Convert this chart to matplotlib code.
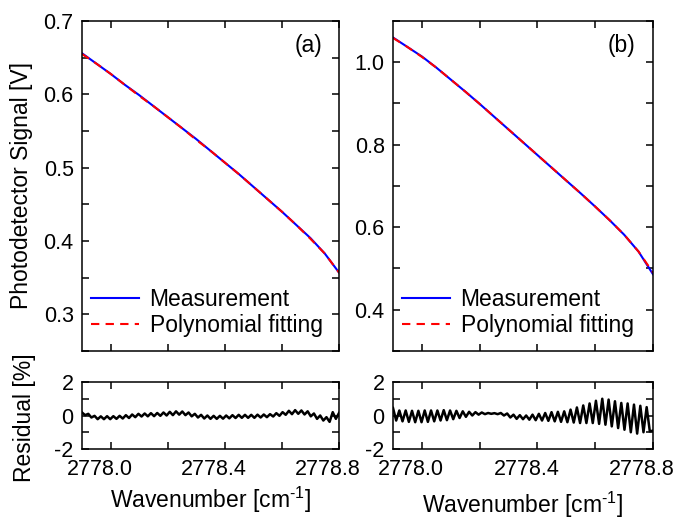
"""Photodetector signal with polynomial fit and residual, two cases (a) and (b).
"""
import numpy as np
import matplotlib.pyplot as plt
import matplotlib.transforms as mtrans
from matplotlib.ticker import MultipleLocator, FormatStrFormatter

plt.rcParams['font.family'] = ['Liberation Sans', 'DejaVu Sans']
plt.rcParams['font.size'] = 16.5
plt.rcParams['xtick.labelsize'] = 15.5
plt.rcParams['ytick.labelsize'] = 15.5
plt.rcParams['axes.unicode_minus'] = False
plt.rcParams['mathtext.fontset'] = 'custom'
plt.rcParams['mathtext.rm'] = 'Liberation Sans'
plt.rcParams['mathtext.it'] = 'Liberation Sans:italic'

# signal curves, sampled every 0.05 cm^-1
wn_sig = np.linspace(2777.90, 2778.80, 19)
meas_a = [0.656, 0.642, 0.628, 0.613, 0.599, 0.584, 0.569, 0.554, 0.539, 0.523,
          0.507, 0.491, 0.474, 0.457, 0.440, 0.422, 0.404, 0.383, 0.357]
fit_a = [0.655, 0.642, 0.628, 0.613, 0.598, 0.584, 0.569, 0.554, 0.538, 0.523,
         0.507, 0.491, 0.474, 0.457, 0.440, 0.422, 0.403, 0.383, 0.357]
meas_b = [1.060, 1.037, 1.014, 0.987, 0.958, 0.929, 0.899, 0.868, 0.837, 0.806,
          0.775, 0.744, 0.713, 0.682, 0.650, 0.617, 0.582, 0.541, 0.486]
fit_b = [1.059, 1.037, 1.013, 0.987, 0.958, 0.929, 0.899, 0.868, 0.837, 0.806,
         0.775, 0.744, 0.713, 0.682, 0.650, 0.617, 0.582, 0.541, 0.490]

# residuals [%], read at the peaks / troughs of the ripple
wn_res = np.linspace(2777.90, 2778.80, 83)
res_a = [0.18, 0.02, 0.10, -0.12, -0.02, -0.22, -0.05, -0.22, -0.04, -0.22,
         -0.04, -0.20, -0.02, -0.18, 0.02, -0.15, 0.06, -0.10, 0.10, -0.06,
         0.12, -0.05, 0.14, -0.04, 0.15, -0.02, 0.18, 0.00, 0.22, 0.02,
         0.25, 0.05, 0.24, 0.02, 0.18, -0.05, 0.10, -0.12, 0.04, -0.18,
         0.00, -0.20, -0.02, -0.20, -0.02, -0.19, 0.00, -0.17, 0.02, -0.15,
         0.04, -0.14, 0.04, -0.14, 0.04, -0.14, 0.05, -0.12, 0.06, -0.10,
         0.08, -0.06, 0.14, -0.02, 0.20, 0.04, 0.28, 0.08, 0.32, 0.10,
         0.30, 0.06, 0.25, -0.05, 0.12, -0.20, 0.00, -0.30, -0.10, -0.38,
         0.20, -0.20, 0.15]
res_b = [0.45, -0.30, 0.30, -0.35, 0.30, -0.38, 0.28, -0.40, 0.28, -0.40,
         0.30, -0.38, 0.30, -0.35, 0.30, -0.30, 0.32, -0.28, 0.30, -0.22,
         0.28, -0.15, 0.25, -0.08, 0.22, 0.00, 0.20, 0.05, 0.18, 0.08,
         0.15, 0.10, 0.14, 0.08, 0.15, 0.00, 0.12, -0.12, 0.05, -0.20,
         0.02, -0.22, 0.00, -0.25, 0.05, -0.28, 0.10, -0.30, 0.15, -0.32,
         0.20, -0.35, 0.22, -0.38, 0.25, -0.40, 0.35, -0.42, 0.48, -0.45,
         0.60, -0.45, 0.72, -0.45, 0.88, -0.50, 1.00, -0.55, 0.95, -0.65,
         0.85, -0.75, 0.75, -0.85, 0.72, -1.00, 0.65, -1.08, 0.58, -1.00,
         0.50, -0.95, -0.90]

W, H = 676, 521
fig = plt.figure(figsize=(W / 100, H / 100), dpi=100)


def box(l, t, r, b):
    return [l / W, 1 - b / H, (r - l) / W, (b - t) / H]


def style(ax):
    ax.tick_params(which='both', direction='in', top=True, right=True,
                   width=1.1, length=5, pad=6)
    for s in ax.spines.values():
        s.set_linewidth(1.1)
    ax.set_xlim(2777.9, 2778.8)
    ax.xaxis.set_major_locator(MultipleLocator(0.4))
    ax.xaxis.set_minor_locator(MultipleLocator(0.2))
    ax.xaxis.set_major_formatter(FormatStrFormatter('%.1f'))


panels = [
    (82, 339, meas_a, fit_a, res_a, (0.25, 0.7), 0.1, 0.05, '(a)', 500),
    (393, 653, meas_b, fit_b, res_b, (0.3, 1.1), 0.2, 0.1, '(b)', 505),
]

# x tick labels sit a little left of their ticks in the original
shift = mtrans.ScaledTranslation(-0.11, 0, fig.dpi_scale_trans)

for l, r, meas, fit, res, ylim, ymaj, ymin, tag, xl_y in panels:
    ax = fig.add_axes(box(l, 21, r, 351))
    axr = fig.add_axes(box(l, 382, r, 449))
    style(ax)
    style(axr)

    ax.plot(wn_sig, meas, color='#0000ff', lw=1.5, label='Measurement')
    ax.plot(wn_sig, fit, color='#ff0000', lw=1.5, ls=(0, (4, 3)),
            label='Polynomial fitting')
    ax.set_ylim(*ylim)
    ax.yaxis.set_major_locator(MultipleLocator(ymaj))
    ax.yaxis.set_minor_locator(MultipleLocator(ymin))
    ax.yaxis.set_major_formatter(FormatStrFormatter('%.1f'))
    ax.tick_params(labelbottom=False)
    ax.text(0.88, 0.925, tag, transform=ax.transAxes, ha='center', va='center')
    ax.legend(loc='lower left', bbox_to_anchor=(0.0, 0.015), frameon=False,
              handlelength=2.1, handletextpad=0.45, labelspacing=0.12,
              borderaxespad=0.2, borderpad=0.2)

    axr.plot(wn_res, res, color='black', lw=1.8)
    axr.set_ylim(-2, 2)
    axr.yaxis.set_major_locator(MultipleLocator(2))
    axr.yaxis.set_minor_locator(MultipleLocator(1))
    axr.yaxis.set_major_formatter(FormatStrFormatter('%d'))
    axr.tick_params(axis='x', pad=7)
    for lab in axr.get_xticklabels():
        lab.set_transform(lab.get_transform() + shift)

    fig.text((l + r) / 2 / W, 1 - xl_y / H, r'Wavenumber [cm$^{\text{-1}}$]',
             ha='center', va='center')

fig.text(22 / W, 1 - 186 / H, 'Photodetector Signal [V]', rotation=90,
         ha='center', va='center')
fig.text(24 / W, 1 - 418 / H, 'Residual [%]', rotation=90,
         ha='center', va='center')

plt.savefig('out.png', dpi=100)
